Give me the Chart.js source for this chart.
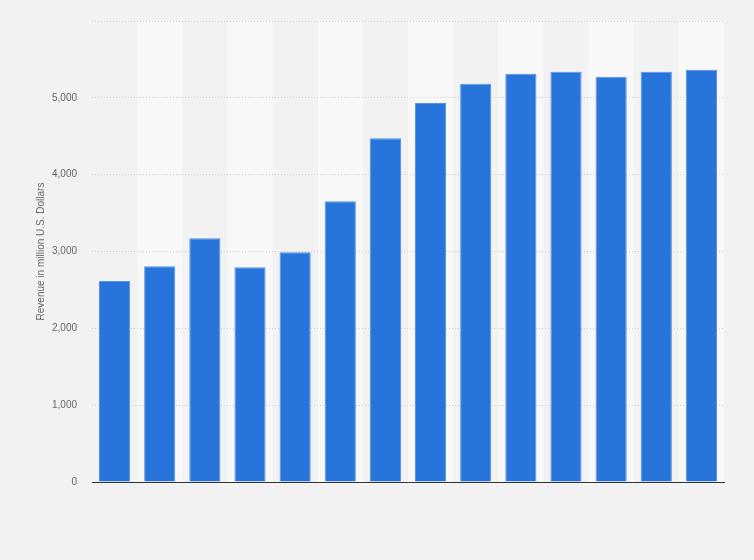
<!DOCTYPE html>
<html>
<head>
<meta charset="utf-8">
<script src="https://cdn.jsdelivr.net/npm/chart.js@4"></script>
<style>
  html, body { margin: 0; padding: 0; background: #f2f2f2; }
  #wrap { width: 754px; height: 560px; }
</style>
</head>
<body>
<div id="wrap"><canvas id="revChart" width="754" height="560"></canvas></div>
<script>
// categorias (sin etiquetas visibles en el original)
const categories = ['1', '2', '3', '4', '5', '6', '7', '8', '9', '10', '11', '12', '13', '14'];
const revenue = [2616, 2807, 3172, 2794, 2990, 3654, 4475, 4932, 5183, 5313, 5340, 5274, 5340, 5366];
const yTicks = [0, 1000, 2000, 3000, 4000, 5000, 6000];
const yTitle = 'Revenue in million U.S. Dollars';

// Fondo con franjas alternas por categoria
const stripes = {
  id: 'stripes',
  beforeDraw(chart) {
    const { ctx, chartArea: a, scales: { x } } = chart;
    ctx.save();
    ctx.fillStyle = '#f2f2f2';
    ctx.fillRect(0, 0, chart.width, chart.height);
    const w = (a.right - a.left) / categories.length;
    ctx.fillStyle = '#f8f8f8';
    categories.forEach((c, i) => {
      if (i % 2 === 1) {
        const cx = x.getPixelForValue(i);
        ctx.fillRect(cx - w / 2, a.top, w, a.bottom - a.top);
      }
    });
    ctx.restore();
  }
};

const ctx = document.getElementById('revChart').getContext('2d');
new Chart(ctx, {
  type: 'bar',
  data: {
    labels: categories,
    datasets: [{
      data: revenue,
      backgroundColor: '#2775db',
      borderColor: '#5592e4',
      borderWidth: 1,
      borderSkipped: 'bottom',
      barPercentage: 0.69,
      categoryPercentage: 1
    }]
  },
  options: {
    responsive: false,
    animation: false,
    layout: { padding: { top: 20, right: 30, bottom: 70, left: 0 } },
    plugins: {
      legend: { display: false },
      tooltip: { enabled: false }
    },
    scales: {
      x: {
        grid: { display: false },
        ticks: { display: false },
        border: { display: true, color: '#333333', width: 1 }
      },
      y: {
        min: 0,
        max: 6000,
        afterFit(scale) { scale.width = 92; },
        afterBuildTicks(scale) { scale.ticks = yTicks.map(v => ({ value: v })); },
        ticks: {
          padding: 15,
          color: '#666666',
          font: { family: 'Liberation Sans', size: 10 },
          callback: v => (v === 6000 ? '' : v.toLocaleString('en-US'))
        },
        grid: {
          color: '#cfcfcf',
          lineWidth: 1,
          drawTicks: false
        },
        border: { display: false, dash: [1, 2] },
        title: {
          display: true,
          text: yTitle,
          color: '#666666',
          font: { family: 'Liberation Sans', size: 10 },
          padding: { top: 35, bottom: 0 }
        }
      }
    }
  },
  plugins: [stripes]
});
</script>
</body>
</html>
